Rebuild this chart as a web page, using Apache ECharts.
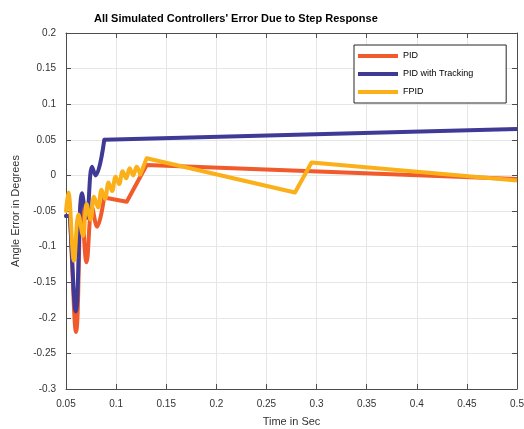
<!DOCTYPE html>
<html>
<head>
<meta charset="utf-8">
<script src="https://cdn.jsdelivr.net/npm/echarts@6/dist/echarts.min.js"></script>
<style>html,body{margin:0;padding:0;background:#fff}#c{width:524px;height:429px}</style>
</head>
<body>
<div id="c"></div>
<script>
var titleText = "All Simulated Controllers' Error Due to Step Response";
var xName = "Time in Sec";
var yName = "Angle Error in Degrees";
var seriesNames = ["PID", "PID with Tracking", "FPID"];
var seriesColors = ["#f15a2b", "#403a97", "#fbb01a"];

var pidData = [
  [0.050, -0.057], [0.052, -0.057], [0.060, -0.220], [0.0655, -0.035],
  [0.0705, -0.122], [0.0760, -0.045], [0.0810, -0.072], [0.0880, -0.031],
  [0.1106, -0.037], [0.1305, 0.0146], [0.500, -0.005]
];
var trackData = [
  [0.050, -0.057], [0.052, -0.057], [0.0597, -0.191], [0.0660, -0.025],
  [0.0705, -0.060], [0.0760, 0.012], [0.0795, 0.000], [0.0882, 0.050],
  [0.500, 0.065]
];
var fpidData = [
  [0.0500, -0.050], [0.0523, -0.024], [0.0580, -0.120], [0.0625, -0.055],
  [0.0670, -0.085], [0.0705, -0.040], [0.0745, -0.062], [0.0780, -0.030],
  [0.0820, -0.045], [0.0855, -0.020], [0.0890, -0.033], [0.0925, -0.010],
  [0.0960, -0.022], [0.0995, -0.002], [0.1030, -0.012], [0.1065, 0.006],
  [0.1100, -0.004], [0.1135, 0.010], [0.1170, 0.000], [0.1205, 0.012],
  [0.1240, 0.001], [0.1305, 0.024], [0.2785, -0.024], [0.2950, 0.018],
  [0.500, -0.007]
];
// index where the oscillating (smoothed) part ends and straight segments begin
var splitAt = [7, 7, 20];
var allData = [pidData, trackData, fpidData];

var chart = echarts.init(document.getElementById('c'), null, {renderer: 'canvas'});
var axisCol = '#4d4d4d';
var lblCol = '#333333';
var fmt = function (v) { return String(+Number(v).toFixed(2)); };
function baseAxis(extra) {
  var a = {
    type: 'value',
    axisLine: {show: true, onZero: false, lineStyle: {color: axisCol, width: 1}},
    axisTick: {show: true, inside: true, length: 5, lineStyle: {color: axisCol}},
    splitLine: {show: false},
    axisLabel: {show: false}
  };
  for (var k in extra) a[k] = extra[k];
  return a;
}
var series = [];
for (var i = 0; i < 3; i++) {
  var d = allData[i], s = splitAt[i];
  series.push({name: seriesNames[i], type: 'line', data: d.slice(0, s + 1), showSymbol: false,
    smooth: 0.4, color: seriesColors[i], z: 2 + i,
    lineStyle: {width: 4, color: seriesColors[i], join: 'round', cap: 'round'}});
  series.push({name: seriesNames[i], type: 'line', data: d.slice(s), showSymbol: false,
    color: seriesColors[i], z: 2 + i,
    lineStyle: {width: 4, color: seriesColors[i], join: 'round', cap: 'butt'}});
}
var option = {
  animation: false,
  backgroundColor: '#ffffff',
  title: {
    text: titleText,
    left: 89, top: 8,
    textStyle: {fontFamily: 'Liberation Sans', fontSize: 11, fontWeight: 'bold', color: '#000'}
  },
  legend: {
    orient: 'vertical',
    left: 354, top: 45,
    padding: [5, 33, 5, 4],
    itemGap: 6,
    itemWidth: 40, itemHeight: 4,
    icon: 'rect',
    backgroundColor: '#ffffff',
    borderColor: '#262626', borderWidth: 1,
    textStyle: {fontFamily: 'Liberation Sans', fontSize: 9, lineHeight: 12, color: '#000'},
    data: seriesNames
  },
  grid: {left: 66, right: 7, top: 33, bottom: 40, containLabel: false, outerBoundsMode: 'none'},
  xAxis: [
    baseAxis({
      min: 0.05, max: 0.5, interval: 0.05, position: 'bottom',
      name: xName, nameLocation: 'middle', nameGap: 27,
      nameTextStyle: {fontFamily: 'Liberation Sans', fontSize: 11, color: lblCol},
      splitLine: {show: true, lineStyle: {color: '#e6e6e6'}},
      axisLabel: {show: true, formatter: fmt, fontFamily: 'Liberation Sans', fontSize: 10, color: lblCol, margin: 10}
    }),
    baseAxis({min: 0.05, max: 0.5, interval: 0.05, position: 'top'})
  ],
  yAxis: [
    baseAxis({
      min: -0.3, max: 0.2, interval: 0.05, position: 'left',
      name: yName, nameLocation: 'middle', nameGap: 45,
      nameTextStyle: {fontFamily: 'Liberation Sans', fontSize: 11, color: lblCol},
      splitLine: {show: true, lineStyle: {color: '#e6e6e6'}},
      axisLabel: {show: true, formatter: fmt, fontFamily: 'Liberation Sans', fontSize: 10, color: lblCol, margin: 10}
    }),
    baseAxis({min: -0.3, max: 0.2, interval: 0.05, position: 'right'})
  ],
  series: series
};
chart.setOption(option);
</script>
</body>
</html>
